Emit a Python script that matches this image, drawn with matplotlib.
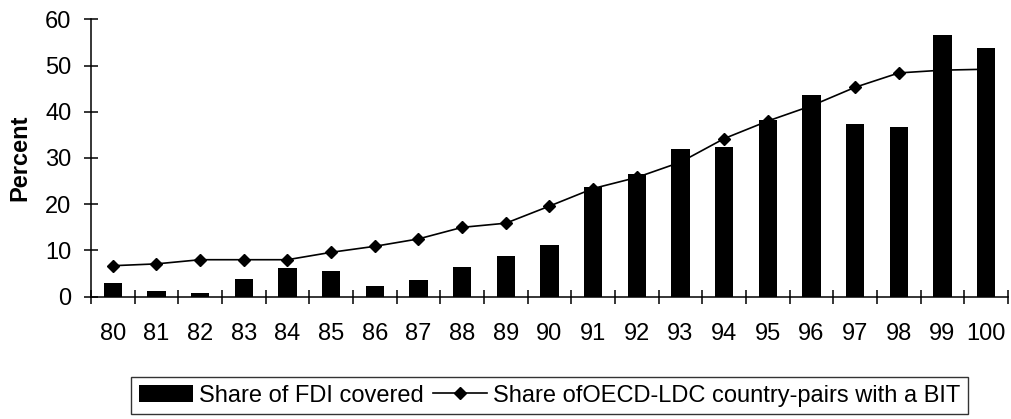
import numpy as np
import matplotlib
matplotlib.use("Agg")
from matplotlib import pyplot as plt
from matplotlib.ticker import FixedLocator

plt.rcParams['font.family'] = ['Liberation Sans', 'DejaVu Sans']

years = ['80', '81', '82', '83', '84', '85', '86', '87', '88', '89', '90',
         '91', '92', '93', '94', '95', '96', '97', '98', '99', '100']
fdi_share = [2.9, 1.3, 0.9, 3.8, 6.2, 5.5, 2.4, 3.6, 6.4, 8.7, 11.2,
             23.7, 26.6, 31.9, 32.4, 38.3, 43.7, 37.3, 36.7, 56.7, 53.9]
bit_share = [6.7, 7.1, 8.0, 8.0, 8.0, 9.6, 10.9, 12.5, 15.0, 15.9, 19.6,
             23.4, 25.8, 29.1, 34.2, 38.0, 41.3, 45.3, 48.4, 49.0, 49.2]

W, H = 1012, 419
fig = plt.figure(figsize=(W / 100, H / 100), dpi=100)
ax = fig.add_axes([91 / W, 1 - 296.7 / H, (1008 - 91) / W, (296.7 - 19.3) / H])

x = np.arange(len(years))
bars = ax.bar(x, fdi_share, width=0.42, color='black', zorder=2,
              label='Share of FDI covered')
line, = ax.plot(x, bit_share, color='black', lw=1.2, marker='D', ms=6.5,
                mfc='black', mec='black', zorder=3,
                label='Share ofOECD-LDC country-pairs with a BIT')

ax.set_xlim(-0.5, len(years) - 0.5)
ax.set_ylim(0, 60)
ax.set_yticks(range(0, 61, 10))
ax.set_xticks(x)
ax.set_xticklabels(years)
ax.xaxis.set_minor_locator(FixedLocator(np.arange(-0.5, len(years), 1.0)))

for s in ['top', 'right']:
    ax.spines[s].set_visible(False)
for s in ['left', 'bottom']:
    ax.spines[s].set_linewidth(1.1)

ax.tick_params(axis='y', direction='inout', length=10, width=1.1,
               labelsize=17, pad=9)
ax.tick_params(axis='x', which='major', length=0, labelsize=17, pad=19)
ax.tick_params(axis='x', which='minor', direction='inout', length=9.5,
               width=1.1)

ax.set_ylabel('Percent', fontsize=17, fontweight='bold', labelpad=10)

leg = fig.legend([bars, line], [bars.get_label(), line.get_label()],
                 loc='center', bbox_to_anchor=(549.5 / W, 1 - 395.5 / H),
                 ncol=2, fontsize=17, frameon=True, fancybox=False,
                 edgecolor='black', handlelength=2.3, handletextpad=0.25,
                 columnspacing=0.4, borderpad=0.3)
leg.get_frame().set_linewidth(1.0)

fig.savefig('out.png', dpi=100)
